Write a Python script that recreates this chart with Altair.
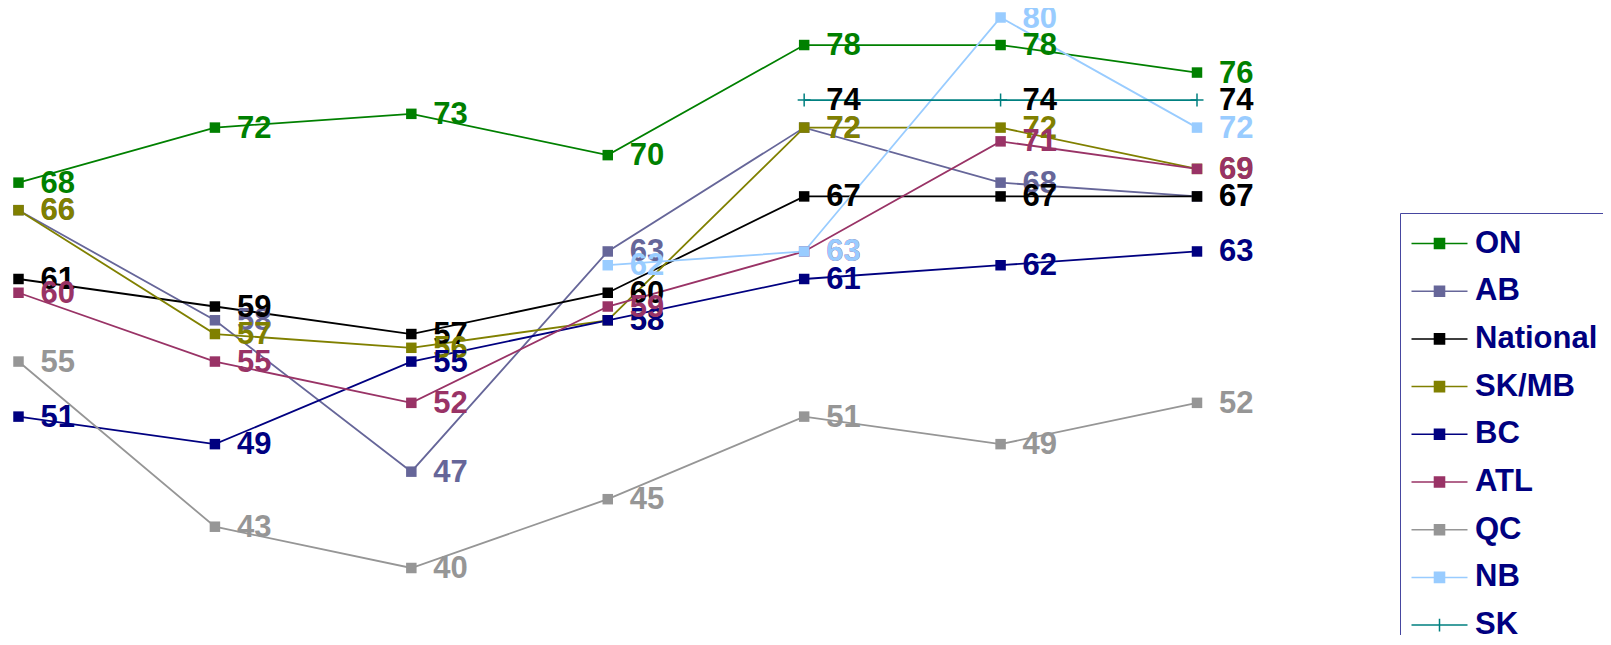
import altair as alt
import pandas as pd

periods = [1, 2, 3, 4, 5, 6, 7]
series_names = ["ON", "AB", "National", "SK/MB", "BC", "ATL", "QC", "NB", "SK"]
series_colors = ["#008000", "#666699", "#000000", "#808000", "#000080",
                 "#993366", "#969696", "#99CCFF", "#008080"]
label_colors = ["#008000", "#666699", "#000000", "#808000", "#000080",
                "#993366", "#969696", "#99CCFF", "#000000"]

on = [68, 72, 73, 70, 78, 78, 76]
ab = [66, 58, 47, 63, 72, 68, 67]
national = [61, 59, 57, 60, 67, 67, 67]
skmb = [66, 57, 56, 58, 72, 72, 69]
bc = [51, 49, 55, 58, 61, 62, 63]
atl = [60, 55, 52, 59, 63, 71, 69]
qc = [55, 43, 40, 45, 51, 49, 52]
nb = [None, None, None, 62, 63, 80, 72]
sk = [None, None, None, None, 74, 74, 74]

all_values = [on, ab, national, skmb, bc, atl, qc, nb, sk]

rows = []
for name, vals, lc in zip(series_names, all_values, label_colors):
    for p, v in zip(periods, vals):
        if v is not None:
            rows.append({"series": name, "period": p, "value": v, "lc": lc})
df = pd.DataFrame(rows)

SQ = "M-2,0H2M-0.36,-0.36H0.36V0.36H-0.36Z"
PL = "M-2,0H2M0,-0.46V0.46"
legend_shapes = [SQ] * 8 + [PL]

xenc = alt.X("period:Q", axis=None,
             scale=alt.Scale(domain=[1, 7], range=[10.5, 1189], nice=False, zero=False))
yenc = alt.Y("value:Q", axis=None,
             scale=alt.Scale(domain=[40, 80], range=[560, 9.5], nice=False, zero=False))
cscale = alt.Scale(domain=series_names, range=series_colors)
leg = alt.Legend(title=None)

base = alt.Chart(df)

lines = base.mark_line(strokeWidth=1.8).encode(
    x=xenc, y=yenc,
    stroke=alt.Stroke("series:N", scale=cscale, legend=leg, sort=series_names),
)

squares = base.transform_filter(alt.datum.series != "SK").mark_point(
    shape="square", filled=True, size=110, opacity=1
).encode(
    x=xenc, y=yenc,
    fill=alt.Fill("series:N", scale=cscale, legend=leg, sort=series_names),
)

pluses = base.transform_filter(alt.datum.series == "SK").mark_point(
    shape="M-1,0H1M0,-1V1", filled=False, size=169, strokeWidth=1.5, opacity=1
).encode(
    x=xenc, y=yenc,
    stroke=alt.Stroke("series:N", scale=cscale, legend=leg, sort=series_names),
)

labels = base.mark_text(
    align="left", baseline="middle", dx=22, dy=1,
    fontSize=31, fontWeight="bold", font="Liberation Sans"
).encode(
    x=xenc, y=yenc,
    text=alt.Text("value:Q"),
    color=alt.Color("lc:N", scale=None),
)

legend_layer = base.transform_filter("false").mark_point(
    filled=True, opacity=1, strokeWidth=1.5
).encode(
    x=xenc, y=yenc,
    shape=alt.Shape("series:N", scale=alt.Scale(domain=series_names, range=legend_shapes),
                    legend=leg, sort=series_names),
    fill=alt.Fill("series:N", scale=cscale, legend=leg, sort=series_names),
    stroke=alt.Stroke("series:N", scale=cscale, legend=leg, sort=series_names),
)

chart = alt.layer(lines, squares, pluses, labels, legend_layer).properties(
    width=1595, height=627, padding=0,
    autosize=alt.AutoSizeParams(type="none"),
).configure_view(stroke=None).configure_legend(
    orient="none", legendX=1392, legendY=205,
    padding=15, symbolOffset=9, labelOffset=20, rowPadding=15.7,
    labelFontSize=31, labelFont="Liberation Sans", labelFontWeight="bold",
    labelColor="#000080", labelLimit=400,
    symbolSize=784, symbolStrokeWidth=1.5,
    strokeColor="#4646a0", fillColor="white",
)

chart.save("out.html", embed_options={"renderer": "svg", "actions": False})
